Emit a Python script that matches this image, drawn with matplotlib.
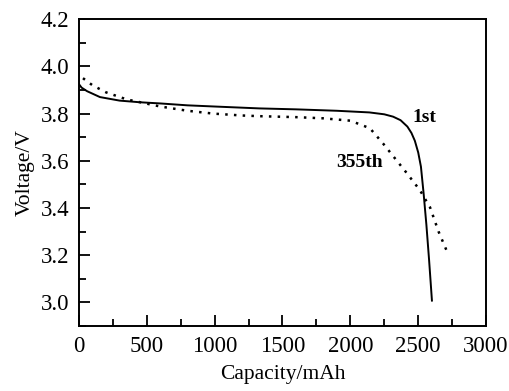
import matplotlib
matplotlib.use('Agg')
from matplotlib import pyplot as plt
from matplotlib.ticker import MultipleLocator

plt.rcParams['font.family'] = ['Liberation Serif', 'DejaVu Serif']

# 1st cycle discharge curve
cap_1st = [0, 20, 60, 155, 300, 450, 600, 800, 1000, 1330, 1600, 1900, 2140, 2250, 2315, 2370,
           2420, 2450, 2475, 2500, 2520, 2540, 2560, 2580, 2601]
volt_1st = [3.925, 3.91, 3.895, 3.87, 3.855, 3.848, 3.843, 3.835, 3.83, 3.822, 3.818, 3.812, 3.805,
            3.797, 3.787, 3.772, 3.745, 3.718, 3.685, 3.635, 3.575, 3.46, 3.33, 3.18, 3.008]

# 355th cycle discharge curve
cap_355 = [30, 100, 200, 353, 600, 800, 990, 1200, 1335, 1600, 1800, 2000, 2144, 2240, 2343,
           2417, 2513, 2587, 2650, 2720]
volt_355 = [3.95, 3.92, 3.89, 3.86, 3.83, 3.812, 3.80, 3.792, 3.789, 3.785, 3.78, 3.77, 3.738,
            3.674, 3.60, 3.547, 3.475, 3.403, 3.30, 3.205]

fig = plt.figure(figsize=(5.09, 3.91), dpi=100)
ax = fig.add_axes([0.155, 0.166, 0.80, 0.785])

ax.plot(cap_1st, volt_1st, color='black', lw=1.4)
ax.plot(cap_355, volt_355, color='black', lw=1.8, linestyle=(0, (1, 2.5)))

ax.text(2543, 3.785, '1st', fontsize=14, fontweight='bold', ha='center', va='center')
ax.text(2071, 3.593, '355th', fontsize=14, fontweight='bold', ha='center', va='center')

ax.set_xlim(0, 3000)
ax.set_ylim(2.9, 4.2)
ax.xaxis.set_major_locator(MultipleLocator(500))
ax.xaxis.set_minor_locator(MultipleLocator(250))
ax.yaxis.set_minor_locator(MultipleLocator(0.1))
ax.set_yticks([3.0, 3.2, 3.4, 3.6, 3.8, 4.0, 4.2])
ax.yaxis.set_major_formatter(plt.FormatStrFormatter('%.1f'))
ax.tick_params(which='both', direction='in', top=False, right=False, width=1.3, labelsize=16.5, pad=7)
ax.tick_params(which='major', length=8)
ax.tick_params(which='minor', length=5)
for s in ax.spines.values():
    s.set_linewidth(1.4)

ax.set_xlabel('Capacity/mAh', fontsize=15.5, labelpad=6)
ax.set_ylabel('Voltage/V', fontsize=15.5, labelpad=4)

fig.savefig('out.png', dpi=100)
